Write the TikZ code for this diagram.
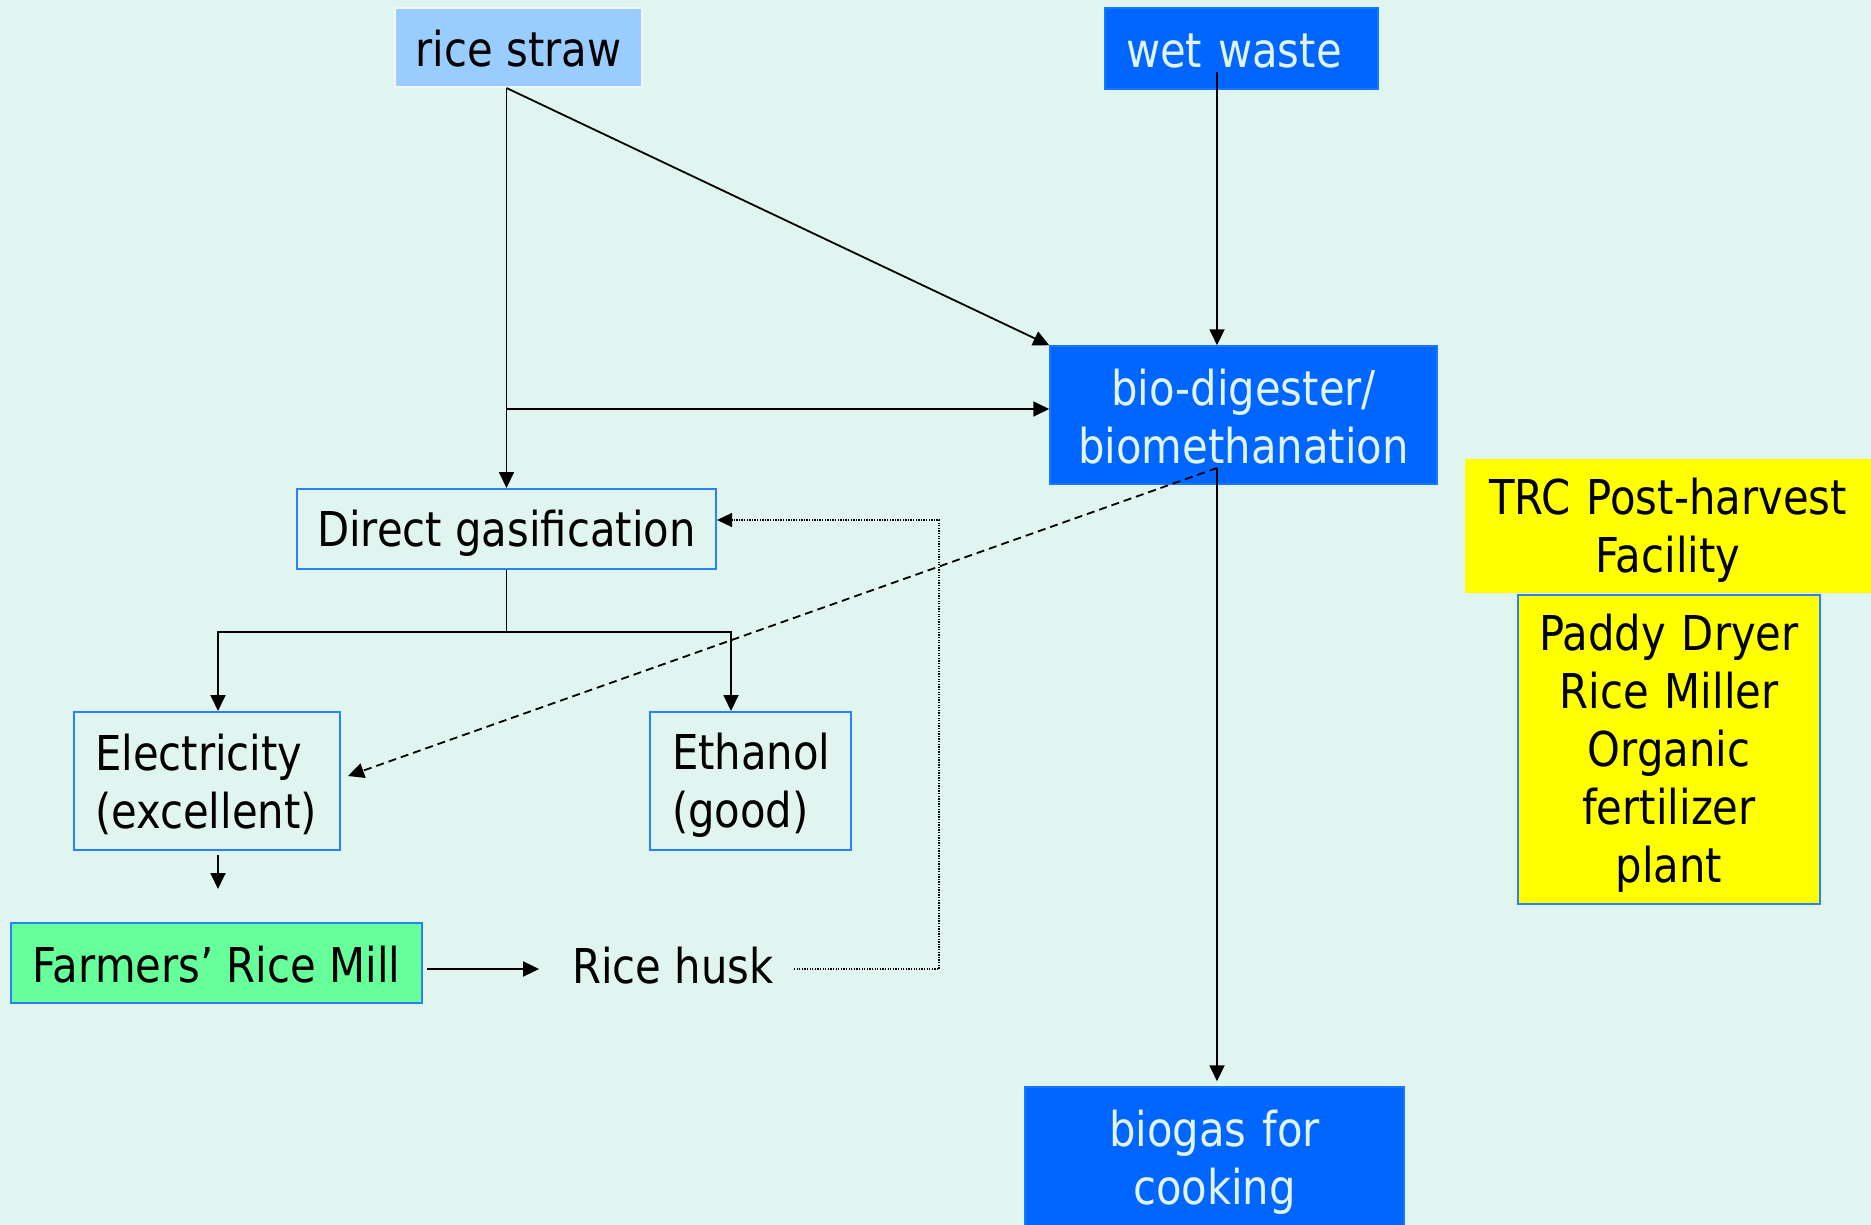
\documentclass[tikz,border=0pt]{standalone}
\usepackage{fontspec}
\setmainfont{DejaVu Sans}[FakeStretch=0.87]
\usetikzlibrary{arrows.meta}
\definecolor{bg}{RGB}{224,245,239}
\definecolor{boxblue}{RGB}{0,102,255}
\definecolor{lightblue}{RGB}{153,204,255}
\definecolor{edge}{RGB}{40,130,255}
\definecolor{mill}{RGB}{102,255,153}
\definecolor{yel}{RGB}{255,255,0}
\newcommand{\linestrut}{\rule[-6pt]{0pt}{50pt}}
\begin{document}
\begin{tikzpicture}[x=1pt,y=-1pt,
  every node/.style={font=\fontsize{48}{58}\selectfont, inner sep=0pt,
    execute at begin node=\linestrut, execute at end node=\linestrut},
  strawbox/.style={fill=lightblue, draw=white!85!lightblue, line width=2pt},
  bluebox/.style={fill=boxblue, draw=edge!60!boxblue, line width=1.5pt, text=bg},
  outbox/.style={draw=edge, line width=2pt},
  millbox/.style={fill=mill, draw=edge, line width=2pt},
  trcbox/.style={fill=yel},
  paddybox/.style={fill=yel, draw=edge, line width=2pt},
  arr/.style={line width=1.8pt, -{Triangle[length=16pt,width=15pt]}},
  darr/.style={line width=1.8pt, dash pattern=on 8pt off 5pt, -{Triangle[length=16pt,width=15pt]}},
  dotarr/.style={line width=1.2pt, dash pattern=on 1.3pt off 1.3pt, -{Triangle[length=15pt,width=14pt]}}
]
\fill[bg] (0,0) rectangle (1871,1225);
\useasboundingbox (0,0) rectangle (1871,1225);

\node[strawbox, minimum width=247pt, minimum height=79pt] (rice) at (518.5,47.5) {rice straw};
\node[bluebox, minimum width=273pt, minimum height=81pt, text width=231pt, align=left] (wet) at (1241.5,48.5) {wet waste};
\node[bluebox, minimum width=387pt, minimum height=138pt, text width=370pt, align=center] (bio) at (1243.5,415) {bio-digester/\\biomethanation};
\node[outbox, minimum width=419pt, minimum height=80pt] (direct) at (506.5,529) {Direct gasification};
\node[outbox, minimum width=266pt, minimum height=138pt, text width=224pt, align=left] (elec) at (207,781) {Electricity\\(excellent)};
\node[outbox, minimum width=201pt, minimum height=138pt, text width=157pt, align=left] (eth) at (750.5,781) {Ethanol\\(good)};
\node[millbox, minimum width=411pt, minimum height=80pt] (farm) at (216.5,963) {Farmers’ Rice Mill};
\node (husk) at (673,964) {Rice husk};
\node[trcbox, minimum width=406pt, minimum height=134pt, text width=390pt, align=center] (trc) at (1668,526) {TRC Post-harvest\\Facility};
\node[paddybox, minimum width=302pt, minimum height=309pt, text width=286pt, align=center] (paddy) at (1669,749.5) {Paddy Dryer\\Rice Miller\\Organic\\fertilizer\\plant};
\node[bluebox, minimum width=379pt, minimum height=142pt, text width=360pt, align=center] (biogas) at (1214.5,1158) {biogas for\\cooking};

\coordinate (wx) at (1217,72);
\coordinate (bx) at (1217,468);
\coordinate (b1) at (218,632);
\coordinate (b2) at (731,632);
\coordinate (e1) at (218,855);
\coordinate (e2) at (218,889);
\coordinate (hk) at (939,969);

\draw[arr] (rice.south -| direct.north) -- (direct.north);
\draw[arr] (rice.south -| direct.north) -- (bio.north west);
\draw[arr] (direct.north |- 0,409) -- (bio.west |- 0,409);
\draw[arr] (wx) -- (wx |- bio.north);
\draw[arr, shorten >=5pt] (bx) -- (bx |- biogas.north);
\draw[darr] (bx) -- ([shift={(7,-5)}]elec.east);
\draw[line width=1.8pt] (direct.south) -- (direct.south |- b1);
\draw[arr] (direct.south |- b1) -| (b1 |- elec.north);
\draw[arr] (direct.south |- b1) -| (b2 |- eth.north);
\draw[arr] (e1) -- (e2);
\draw[arr] ([xshift=4pt]farm.east |- 0,969) -- ([xshift=-33pt]husk.west |- 0,969);
\draw[dotarr] ([xshift=20pt]husk.east |- hk) -- (hk) |- ([yshift=9pt]direct.east);
\end{tikzpicture}
\end{document}
